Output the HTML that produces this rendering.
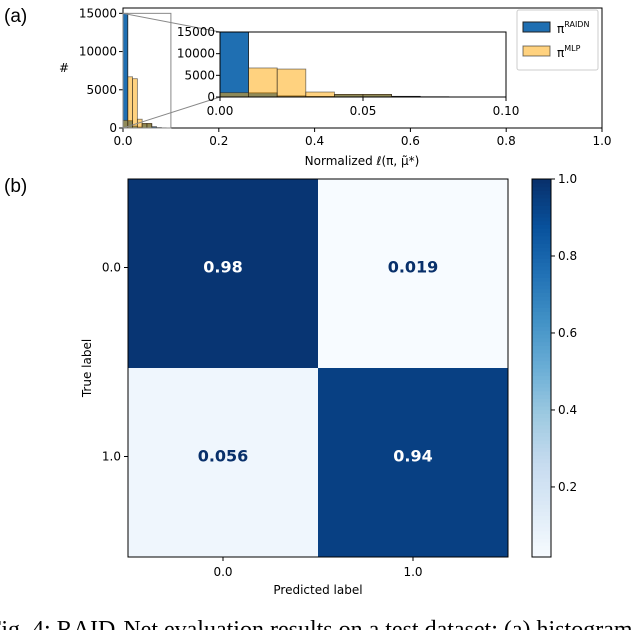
<!DOCTYPE html>
<html><head><meta charset="utf-8"><style>
body{margin:0;background:#fff;overflow:hidden;}
svg{display:block;font-family:"DejaVu Sans","Liberation Sans",sans-serif;}
</style></head><body>
<svg id="s" width="640" height="630" viewBox="0 0 640 630" xmlns="http://www.w3.org/2000/svg">
<text x="4" y="22" font-size="19" font-family="Liberation Sans,sans-serif">(a)</text>
<text x="4" y="192" font-size="19" font-family="Liberation Sans,sans-serif">(b)</text>
<g id="hist"></g>
<g id="cm"></g>
<text x="-12" y="637" font-size="24" font-family="Liberation Serif,serif">Fig. 4: RAID-Net evaluation results on a test dataset: (a) histogram</text>
</svg>
<script>
const binEdges=[0,0.01,0.02,0.03,0.04,0.05,0.06,0.07,0.08,0.09];
const raidnCounts=[15000,950,250,120,550,550,150,50,20];
const mlpCounts=[1000,6700,6450,1150,600,600,0,0,0];
const mainTicks=[0,0.2,0.4,0.6,0.8,1.0];
const mainYTicks=[0,5000,10000,15000];
const insetXTicks=[0,0.05,0.1];
const insetYTicks=[0,5000,10000,15000];
const cmValues=[[0.98,0.019],[0.056,0.94]];
const cmLabels=["0.0","1.0"];
const cbTicks=[0.2,0.4,0.6,0.8,1.0];

const NS="http://www.w3.org/2000/svg";
function mk(parent,tag,attrs,text){const e=document.createElementNS(NS,tag);for(const k in attrs)e.setAttribute(k,attrs[k]);if(text!==undefined)e.textContent=text;parent.appendChild(e);return e;}
const H=document.getElementById('hist');
const mx=v=>123+v*479, my=v=>128-v/15700*120;
const ix=v=>220+v*2860, iy=v=>97-v/15000*65;
function bars(g,xf,yf,xmax){
  for(let i=0;i<raidnCounts.length;i++){if(binEdges[i]>=xmax)break;const x0=xf(binEdges[i]),x1=xf(binEdges[i]+0.01);
    const r=mk(g,'rect',{x:x0,y:yf(raidnCounts[i]),width:x1-x0,height:yf(0)-yf(raidnCounts[i]),fill:'#1f6fb2',stroke:'#222','stroke-width':0.8});
    }
  for(let i=0;i<mlpCounts.length;i++){if(binEdges[i]>=xmax||mlpCounts[i]<=0)continue;const x0=xf(binEdges[i]),x1=xf(binEdges[i]+0.01);
    const r=mk(g,'rect',{x:x0,y:yf(mlpCounts[i]),width:x1-x0,height:yf(0)-yf(mlpCounts[i]),fill:'#ffa500','fill-opacity':0.5,stroke:'#222','stroke-width':0.8,'stroke-opacity':0.6});
    }
}
bars(H,mx,my,1);
let f=mk(H,'rect',{x:123,y:8,width:479,height:120,fill:'none',stroke:'#000','stroke-width':1});

mainTicks.forEach(t=>{mk(H,'line',{x1:mx(t),x2:mx(t),y1:128,y2:132,stroke:'#000'});
  const e=mk(H,'text',{x:mx(t),y:145,'font-size':12,'text-anchor':'middle'},t.toFixed(1));
  });
mainYTicks.forEach(t=>{mk(H,'line',{x1:119,x2:123,y1:my(t),y2:my(t),stroke:'#000'});
  const e=mk(H,'text',{x:117,y:my(t)+4,'font-size':12,'text-anchor':'end'},String(t));
  });
let t=mk(H,'text',{x:362,y:165,'font-size':12,'text-anchor':'middle'},'Normalized ℓ(π, μ̃*)');

t=mk(H,'text',{x:64,y:72,'font-size':12,'text-anchor':'middle'},'#');

mk(H,'rect',{x:mx(0),y:my(15000),width:mx(0.1)-mx(0),height:my(0)-my(15000),fill:'none',stroke:'#888','stroke-width':1});
mk(H,'line',{x1:mx(0),y1:my(15000),x2:ix(0),y2:iy(15000),stroke:'#888'});
mk(H,'line',{x1:mx(0),y1:my(0),x2:ix(0),y2:iy(0),stroke:'#888'});
const I=mk(H,'g',{});
mk(I,'rect',{x:ix(0),y:iy(15000),width:ix(0.1)-ix(0),height:65,fill:'#fff'});
bars(I,ix,iy,0.1);
mk(I,'rect',{x:ix(0),y:iy(15000),width:ix(0.1)-ix(0),height:65,fill:'none',stroke:'#000'});
insetXTicks.forEach(v=>{mk(I,'line',{x1:ix(v),x2:ix(v),y1:97,y2:101,stroke:'#000'});
  const e=mk(I,'text',{x:ix(v),y:115,'font-size':12,'text-anchor':'middle'},v===0?'0.00':v.toFixed(2));
  });
insetYTicks.forEach(v=>{mk(I,'line',{x1:216,x2:220,y1:iy(v),y2:iy(v),stroke:'#000'});
  const e=mk(I,'text',{x:215,y:iy(v)+4,'font-size':12,'text-anchor':'end'},String(v));
  });
const L=mk(H,'g',{});
mk(L,'rect',{x:517,y:10,width:81,height:60,fill:'#fff',stroke:'#ccc',rx:2});
mk(L,'rect',{x:523,y:22,width:27,height:10,fill:'#1f6fb2',stroke:'#222'});
mk(L,'rect',{x:523,y:46,width:27,height:10,fill:'#ffa500','fill-opacity':0.5,stroke:'#222','stroke-opacity':0.6});
t=mk(L,'text',{x:557,y:33,'font-size':12},'π');mk(t,'tspan',{dy:-6,'font-size':8},'RAIDN');

t=mk(L,'text',{x:557,y:57,'font-size':12},'π');mk(t,'tspan',{dy:-6,'font-size':8},'MLP');


const C=document.getElementById('cm');
const X0=128,X1=508,Y0=179,Y1=557,cw=(X1-X0)/2,ch=(Y1-Y0)/2;
const vmin=0.018,vmax=1.0;
function blues(v){const s=Math.max(0,Math.min(1,(v-vmin)/(vmax-vmin)));
  const stops=[[247,251,255],[222,235,247],[198,219,239],[158,202,225],[107,174,214],[66,146,198],[33,113,181],[8,81,156],[8,48,107]];
  const p=s*(stops.length-1),i=Math.min(stops.length-2,Math.floor(p)),fr=p-i;
  const c=stops[i].map((a,k)=>Math.round(a+(stops[i+1][k]-a)*fr));return `rgb(${c[0]},${c[1]},${c[2]})`;}
cmValues.forEach((row,r)=>row.forEach((v,c)=>{
  const e=mk(C,'rect',{x:X0+c*cw,y:Y0+r*ch,width:cw,height:ch,fill:blues(v)});
  
  const tx=mk(C,'text',{x:X0+c*cw+cw/2,y:Y0+r*ch+ch/2-1,'font-size':16,'font-weight':'bold','text-anchor':'middle',fill:v>0.5?'#fff':'#08306b'},String(v));
  }));
mk(C,'rect',{x:X0,y:Y0,width:X1-X0,height:Y1-Y0,fill:'none',stroke:'#000'});
cmLabels.forEach((l,i)=>{const cx=X0+cw*i+cw/2,cy=Y0+ch*i+ch/2-6;
  mk(C,'line',{x1:cx,x2:cx,y1:Y1,y2:Y1+4,stroke:'#000'});
  let e=mk(C,'text',{x:cx,y:Y1+19,'font-size':12,'text-anchor':'middle'},l);
  
  mk(C,'line',{x1:X0-4,x2:X0,y1:cy,y2:cy,stroke:'#000'});
  e=mk(C,'text',{x:X0-7,y:cy+4,'font-size':12,'text-anchor':'end'},l);
  });
t=mk(C,'text',{x:318,y:594,'font-size':12,'text-anchor':'middle'},'Predicted label');

t=mk(C,'text',{x:0,y:0,'font-size':12,'text-anchor':'middle',transform:'translate(91,368) rotate(-90)'},'True label');

const CB=mk(C,'g',{});
const cby=v=>Y1-(v-vmin)/(vmax-vmin)*(Y1-Y0);
for(let k=0;k<100;k++){const v0=vmin+(vmax-vmin)*k/100,v1=vmin+(vmax-vmin)*(k+1)/100;
  mk(CB,'rect',{x:532,y:cby(v1),width:19,height:cby(v0)-cby(v1)+0.6,fill:blues((v0+v1)/2)});}
mk(CB,'rect',{x:532,y:Y0,width:19,height:Y1-Y0,fill:'none',stroke:'#000'});
cbTicks.forEach(v=>{mk(CB,'line',{x1:551,x2:555,y1:cby(v),y2:cby(v),stroke:'#000'});
  const e=mk(CB,'text',{x:558,y:cby(v)+4,'font-size':12},v.toFixed(1));
  });
</script>
</body></html>
